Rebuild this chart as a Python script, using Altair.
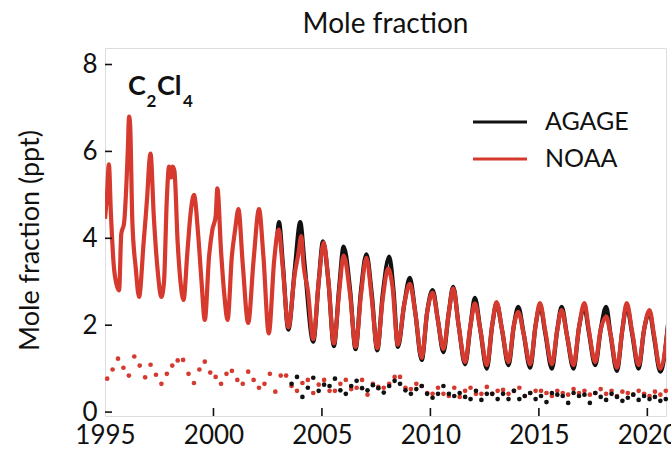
import altair as alt
import pandas as pd

# ---------------- data ----------------
NOAA_T = [1995.00, 1995.08, 1995.18, 1995.27, 1995.40, 1995.55, 1995.65, 1995.75, 1995.88,
          1996.05, 1996.11, 1996.16, 1996.26, 1996.42, 1996.57, 1996.78, 1996.95,
          1997.05, 1997.10, 1997.25, 1997.42, 1997.60, 1997.72, 1997.85, 1997.95,
          1998.05, 1998.12, 1998.20, 1998.35, 1998.48, 1998.62, 1998.80, 1998.95,
          1999.10, 1999.30, 1999.45, 1999.60, 1999.80, 1999.95,
          2000.10, 2000.18, 2000.35, 2000.50, 2000.65, 2000.85,
          2001.00, 2001.15, 2001.35, 2001.60, 2001.85,
          2002.10, 2002.30, 2002.55, 2002.80,
          2003.00, 2003.20, 2003.45, 2003.75, 2003.90,
          2004.05, 2004.15, 2004.35, 2004.60, 2004.85,
          2005.08, 2005.30, 2005.55, 2005.80,
          2006.00, 2006.30, 2006.55, 2006.80,
          2007.05, 2007.30, 2007.55, 2007.80,
          2008.05, 2008.25, 2008.50, 2008.80,
          2009.05, 2009.30, 2009.60, 2009.85,
          2010.10, 2010.35, 2010.60, 2010.85,
          2011.05, 2011.30, 2011.60, 2011.85,
          2012.05, 2012.30, 2012.60, 2012.85,
          2013.05, 2013.30, 2013.60, 2013.85,
          2014.05, 2014.30, 2014.60, 2014.85,
          2015.05, 2015.30, 2015.60, 2015.85,
          2016.05, 2016.30, 2016.60, 2016.85,
          2017.10, 2017.30, 2017.60, 2017.85,
          2018.10, 2018.30, 2018.60, 2018.85,
          2019.05, 2019.30, 2019.60, 2019.85,
          2020.10, 2020.30, 2020.60, 2020.95]
NOAA_V = [4.45, 4.90, 5.70, 4.60, 3.40, 2.90, 2.80, 4.10, 4.35,
          6.00, 6.80, 6.60, 4.40, 3.30, 2.65, 3.90, 5.00,
          5.80, 5.95, 4.50, 3.30, 2.65, 3.00, 4.90, 5.65,
          5.40, 5.65, 5.55, 3.90, 3.00, 2.58, 3.70, 4.60,
          5.00, 4.05, 3.00, 2.12, 3.60, 4.20,
          4.50, 5.15, 3.70, 2.70, 2.12, 3.60,
          4.20, 4.67, 3.40, 2.05, 3.50,
          4.67, 3.60, 1.81, 3.50,
          4.20, 3.30, 1.95, 3.20, 3.60,
          4.05, 3.40, 2.80, 1.68, 3.00,
          3.90, 3.00, 1.58, 2.80,
          3.60, 2.70, 1.50, 2.70,
          3.55, 2.60, 1.47, 2.60,
          3.30, 2.90, 1.55, 2.50,
          2.95, 2.30, 1.25, 2.30,
          2.75, 2.10, 1.45, 2.30,
          2.85, 2.00, 1.15, 2.00,
          2.50, 1.90, 1.08, 2.00,
          2.53, 1.90, 1.15, 2.00,
          2.30, 1.80, 1.10, 2.00,
          2.51, 1.85, 1.10, 1.90,
          2.35, 1.75, 1.08, 1.95,
          2.51, 1.90, 1.15, 1.90,
          2.20, 1.80, 1.02, 1.90,
          2.51, 1.85, 1.08, 1.90,
          2.35, 1.80, 1.00, 1.95]

AGAGE_T = [2002.95, 2003.02, 2003.20, 2003.45, 2003.75,
           2004.00, 2004.20, 2004.60, 2004.85,
           2005.05, 2005.30, 2005.55, 2005.80,
           2006.00, 2006.30, 2006.55, 2006.80,
           2007.05, 2007.30, 2007.55, 2007.80,
           2008.10, 2008.30, 2008.50, 2008.80,
           2009.05, 2009.30, 2009.60, 2009.85,
           2010.10, 2010.35, 2010.60, 2010.85,
           2011.05, 2011.30, 2011.60, 2011.85,
           2012.05, 2012.30, 2012.60, 2012.85,
           2013.05, 2013.30, 2013.60, 2013.85,
           2014.05, 2014.30, 2014.60, 2014.85,
           2015.05, 2015.30, 2015.60, 2015.85,
           2016.05, 2016.30, 2016.60, 2016.85,
           2017.10, 2017.30, 2017.60, 2017.85,
           2018.10, 2018.30, 2018.60, 2018.85,
           2019.05, 2019.30, 2019.60, 2019.85,
           2020.10, 2020.30, 2020.60, 2020.97]
AGAGE_V = [4.10, 4.37, 3.40, 1.90, 3.30,
           4.37, 3.40, 1.62, 3.00,
           3.93, 3.00, 1.52, 2.90,
           3.81, 2.80, 1.45, 2.80,
           3.63, 2.70, 1.42, 2.70,
           3.58, 2.80, 1.50, 2.50,
           3.09, 2.30, 1.20, 2.30,
           2.81, 2.10, 1.38, 2.30,
           2.88, 2.00, 1.10, 2.00,
           2.63, 1.90, 1.00, 2.00,
           2.50, 1.90, 1.08, 2.00,
           2.42, 1.80, 1.02, 2.00,
           2.45, 1.80, 1.00, 1.90,
           2.42, 1.75, 1.00, 1.95,
           2.40, 1.85, 1.08, 1.90,
           2.42, 1.80, 0.95, 1.90,
           2.45, 1.80, 1.00, 1.90,
           2.30, 1.75, 0.93, 2.10]

# scatter points near the bottom (quarterly)
NOAA_DOT_YEARS = list(range(1995, 2021))
NOAA_DOT_V = [[0.77, 0.98, 1.23, 1.02], [0.84, 1.28, 1.07, 0.80], [1.09, 0.86, 0.65, 0.88],
              [1.07, 1.19, 1.20, 0.88], [0.67, 0.98, 1.16, 0.91], [0.81, 0.65, 0.88, 0.95],
              [0.74, 0.65, 0.93, 0.74], [0.56, 0.65, 0.88, 0.47], [0.84, 0.84, 0.60, 0.49],
              [0.67, 0.74, 0.44, 0.63], [0.74, 0.49, 0.49, 0.65], [0.74, 0.53, 0.56, 0.74],
              [0.40, 0.65, 0.58, 0.56], [0.65, 0.81, 0.81, 0.56], [0.53, 0.65, 0.60, 0.44],
              [0.42, 0.56, 0.42, 0.37], [0.56, 0.35, 0.49, 0.56], [0.42, 0.42, 0.58, 0.42],
              [0.49, 0.51, 0.42, 0.49], [0.56, 0.37, 0.44, 0.49], [0.49, 0.44, 0.37, 0.49],
              [0.44, 0.40, 0.53, 0.44], [0.49, 0.40, 0.44, 0.53], [0.42, 0.49, 0.37, 0.47],
              [0.44, 0.40, 0.49, 0.42], [0.37, 0.47, 0.40, 0.49]]
AGAGE_DOT_YEARS = list(range(2003, 2021))
AGAGE_DOT_V = [[None, None, 0.65, 0.81], [0.35, 0.56, 0.79, 0.49], [0.63, 0.60, 0.77, 0.50],
               [0.42, 0.60, 0.72, 0.55], [0.50, 0.62, 0.55, 0.45], [0.60, 0.72, 0.65, 0.50],
               [0.42, 0.53, 0.60, 0.42], [0.33, 0.42, 0.60, 0.42], [0.37, 0.44, 0.35, 0.30],
               [0.49, 0.28, 0.42, 0.42], [0.30, 0.42, 0.30, 0.49], [0.30, 0.37, 0.44, 0.30],
               [0.37, 0.23, 0.44, 0.40], [0.37, 0.21, 0.44, 0.37], [0.40, 0.21, 0.44, 0.35],
               [0.28, 0.42, 0.35, 0.26], [0.33, 0.40, 0.28, 0.37], [0.30, 0.35, 0.26, 0.30]]
QUARTER_OFFSETS = [0.10, 0.35, 0.60, 0.85]

X_TICKS = [1995, 2000, 2005, 2010, 2015, 2020]
Y_TICKS = [0, 2, 4, 6, 8]

RED = "#d6392d"
BLACK = "#111111"
FONT = "Lato"

W, H = 561, 368
XDOM = [1995, 2020.86]
YDOM = [-0.09, 8.38]

# ---------------- tables ----------------
noaa = pd.DataFrame({"t": NOAA_T, "v": NOAA_V})
agage = pd.DataFrame({"t": AGAGE_T, "v": AGAGE_V})


def dots(years, vals):
    rows = []
    for y, vs in zip(years, vals):
        for o, v in zip(QUARTER_OFFSETS, vs):
            if v is not None:
                rows.append({"t": y + o, "v": v})
    return pd.DataFrame(rows)


noaa_d = dots(NOAA_DOT_YEARS, NOAA_DOT_V)
agage_d = dots(AGAGE_DOT_YEARS, AGAGE_DOT_V)

xs = alt.Scale(domain=XDOM, nice=False, zero=False)
ys = alt.Scale(domain=YDOM, nice=False, zero=False)

x_axis = alt.Axis(values=X_TICKS, format="d", ticks=False, domain=False, grid=False,
                  labelFont=FONT, labelFontSize=26, labelColor=BLACK, labelPadding=6,
                  labelFlush=False, labelOverlap=False, title=None)
y_axis = alt.Axis(values=Y_TICKS, format="d", ticks=False, domain=False, grid=False,
                  labelFont=FONT, labelFontSize=26, labelColor=BLACK, labelPadding=8,
                  labelFlush=False, labelOverlap=False,
                  title="Mole fraction (ppt)", titleFont=FONT, titleFontSize=27,
                  titleFontWeight="normal", titleColor=BLACK, titleX=-75, titleY=192,
                  titleAngle=-90, titleAlign="center", titleBaseline="middle")

X = alt.X("t:Q", scale=xs, axis=x_axis)
Y = alt.Y("v:Q", scale=ys, axis=y_axis)

agage_line = alt.Chart(agage).mark_line(color=BLACK, strokeWidth=4.2, interpolate="monotone",
                                        clip=True).encode(x=X, y=Y)
noaa_line = alt.Chart(noaa).mark_line(color=RED, strokeWidth=4.2, interpolate="monotone",
                                      clip=True).encode(x=X, y=Y)
noaa_pts = alt.Chart(noaa_d).mark_circle(color=RED, size=22, opacity=1).encode(
    x=alt.X("t:Q", scale=xs), y=alt.Y("v:Q", scale=ys))
agage_pts = alt.Chart(agage_d).mark_circle(color=BLACK, size=22, opacity=1).encode(
    x=alt.X("t:Q", scale=xs), y=alt.Y("v:Q", scale=ys))

# inward tick marks
xt = alt.Chart(pd.DataFrame({"t": X_TICKS[1:]})).mark_rule(color=BLACK, strokeWidth=1.6).encode(
    x=alt.X("t:Q", scale=xs), y=alt.value(H - 8), y2=alt.value(H))
yt = alt.Chart(pd.DataFrame({"v": Y_TICKS})).mark_rule(color=BLACK, strokeWidth=1.6).encode(
    y=alt.Y("v:Q", scale=ys), x=alt.value(0), x2=alt.value(7))

# legend
leg_a = alt.Chart(pd.DataFrame({"k": [0]})).mark_rule(color=BLACK, strokeWidth=3).encode(
    x=alt.value(368), x2=alt.value(422), y=alt.value(74))
leg_n = alt.Chart(pd.DataFrame({"k": [0]})).mark_rule(color=RED, strokeWidth=3).encode(
    x=alt.value(368), x2=alt.value(422), y=alt.value(111))
leg_txt = alt.Chart(pd.DataFrame({"name": ["AGAGE", "NOAA"], "yy": [74, 111]})).mark_text(
    font=FONT, fontSize=25, color=BLACK, align="left", baseline="middle").encode(
    x=alt.value(440), y=alt.Y("yy:Q", scale=None), text="name:N")

# compound label C2Cl4
lab = alt.Chart(pd.DataFrame({"s": ["C", "Cl"], "xx": [23, 52]})).mark_text(
    font=FONT, fontSize=27, fontWeight="bold", color=BLACK, align="left",
    baseline="alphabetic").encode(x=alt.X("xx:Q", scale=None), y=alt.value(47), text="s:N")
sub = alt.Chart(pd.DataFrame({"s": ["2", "4"], "xx": [41.5, 78]})).mark_text(
    font=FONT, fontSize=17, fontWeight="bold", color=BLACK, align="left",
    baseline="alphabetic").encode(x=alt.X("xx:Q", scale=None), y=alt.value(59), text="s:N")

# chart title as text above the frame
title = alt.Chart(pd.DataFrame({"s": ["Mole fraction"]})).mark_text(
    font=FONT, fontSize=28, color=BLACK, align="center", baseline="alphabetic").encode(
    x=alt.value(W / 2), y=alt.value(-15), text="s:N")

chart = alt.layer(agage_line, noaa_line, noaa_pts, agage_pts, xt, yt,
                  leg_a, leg_n, leg_txt, lab, sub, title).properties(
    width=W, height=H,
    autosize=alt.AutoSizeParams(type="none"),
    padding={"left": 105, "top": 48, "right": 5, "bottom": 34},
).configure_view(stroke=BLACK, strokeWidth=2).configure(background="white")

chart.save("out.html", embed_options={"renderer": "svg", "actions": False})
